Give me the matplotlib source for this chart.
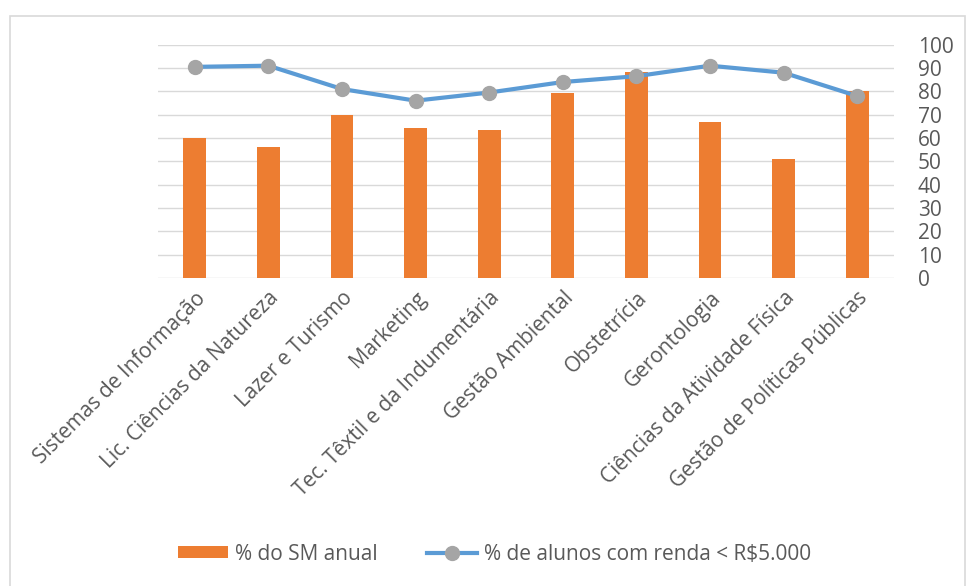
import matplotlib.pyplot as plt
import numpy as np
from matplotlib.patches import Rectangle
from matplotlib.lines import Line2D
from matplotlib.patches import Patch

plt.rcParams['font.family'] = ['Open Sans', 'DejaVu Sans']

cursos = ["Sistemas de Informação", "Lic. Ciências da Natureza", "Lazer e Turismo",
          "Marketing", "Tec. Têxtil e da Indumentária", "Gestão Ambiental",
          "Obstetrícia", "Gerontologia", "Ciências da Atividade Física",
          "Gestão de Políticas Públicas"]
sm_anual = [60, 56, 70, 64.5, 63.5, 79.5, 88.5, 67, 51, 80]
renda = [90.5, 91, 81, 76, 79.5, 84, 86.5, 91, 88, 78]

orange = '#ED7D31'
blue = '#5B9BD5'
gray_mk = '#A5A5A5'
txt = '#595959'

fig = plt.figure(figsize=(9.67, 5.86), dpi=100)
# moldura do gráfico
fig.patches.append(Rectangle((10 / 967, -0.01), (965 - 10) / 967, 1 - 16 / 586 + 0.01,
                             transform=fig.transFigure, fill=False,
                             edgecolor='#D9D9D9', linewidth=1.2))

ax = fig.add_axes([158 / 967, 1 - 278 / 586, (894 - 158) / 967, (278 - 44.7) / 586])
x = np.arange(len(cursos))
ax.bar(x, sm_anual, width=0.31, color=orange, zorder=3)
ax.plot(x, renda, color=blue, linewidth=3, marker='o', markersize=10,
        markerfacecolor=gray_mk, markeredgecolor=gray_mk, zorder=4)

ax.set_xlim(-0.5, len(cursos) - 0.5)
ax.set_ylim(0, 100)
ax.set_yticks(range(0, 101, 10))
ax.yaxis.tick_right()
ax.grid(axis='y', color='#D9D9D9', linewidth=1, zorder=0)
for s in ax.spines.values():
    s.set_visible(False)
ax.tick_params(axis='y', length=0, pad=17, labelsize=15, labelcolor=txt)
ax.tick_params(axis='x', length=0, pad=7, labelsize=15, labelcolor=txt)
ax.set_xticks(x)
ax.set_xticklabels(cursos, rotation=45, ha='right', rotation_mode='anchor')
for lbl in ax.get_yticklabels():
    lbl.set_horizontalalignment('left')

handles = [Patch(facecolor=orange, edgecolor='none'),
           Line2D([0], [0], color=blue, linewidth=3, marker='o', markersize=10,
                  markerfacecolor=gray_mk, markeredgecolor=gray_mk)]
labels = ["% do SM anual", "% de alunos com renda < R$5.000"]
fig.legend(handles, labels, loc='center', bbox_to_anchor=(494.5 / 967, 1 - 554 / 586),
           ncol=2, frameon=False, fontsize=15, labelcolor=txt,
           handlelength=2.4, handleheight=0.55, handletextpad=0.33, columnspacing=2.35)

plt.savefig('out.png', dpi=100)
